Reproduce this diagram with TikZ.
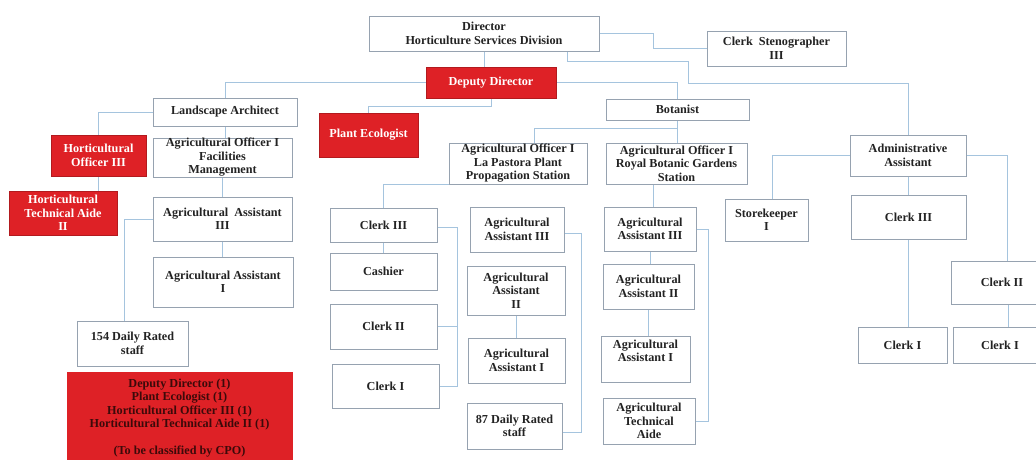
\documentclass[tikz,border=0pt]{standalone}
\usepackage{fontspec}
\setmainfont{Liberation Serif}
\usetikzlibrary{calc}
\pgfdeclarelayer{background}
\pgfsetlayers{background,main}
\definecolor{boxline}{RGB}{150,162,176}
\definecolor{conn}{RGB}{165,196,222}
\definecolor{redbox}{RGB}{222,33,38}
\definecolor{notetext}{RGB}{60,10,10}
\definecolor{txt}{RGB}{35,35,35}
\tikzset{
  box/.style={draw=boxline, line width=0.7pt, fill=white, align=center, inner sep=0pt,
    text=txt, font=\bfseries\fontsize{12.2}{13.5}\selectfont},
  redb/.style={box, fill=redbox, draw=redbox!80!black, text=white},
  notebox/.style={box, fill=redbox, draw=redbox, text=notetext},
  link/.style={draw=conn, line width=0.9pt},
}
\begin{document}
\begin{tikzpicture}[x=1pt,y=-1pt]
\useasboundingbox (0,0) rectangle (1036,460);
% top
\node[box, minimum width=230, minimum height=35] (dir) at (484,33.5) {Director\\Horticulture Services Division};
\node[box, minimum width=139, minimum height=35] (steno) at (776.5,48.5) {Clerk\ \ Stenographer\\III};
\node[redb, minimum width=130, minimum height=31] (dep) at (491,82.5) {Deputy Director};
\node[redb, minimum width=99, minimum height=44] (pe) at (368.5,135) {Plant Ecologist};
\node[box, minimum width=143, minimum height=21] (bot) at (677.5,109.5) {Botanist};
\node[box, minimum width=138, minimum height=41] (lp) at (518,163.5) {Agricultural Officer I\\La Pastora Plant\\Propagation Station};
\node[box, minimum width=141, minimum height=41] (rb) at (676.5,163.5) {Agricultural Officer I\\Royal Botanic Gardens\\Station};
% admin branch
\node[box, minimum width=116, minimum height=41] (adm) at (908,155.5) {Administrative\\Assistant};
\node[box, minimum width=83, minimum height=42] (sk) at (766.5,220) {Storekeeper\\I};
\node[box, minimum width=115, minimum height=44] (c3r) at (908.5,217) {Clerk III};
\node[box, minimum width=102, minimum height=43] (c2r) at (1002,282.5) {Clerk II};
\node[box, minimum width=89, minimum height=36] (c1a) at (902.5,345) {Clerk I};
\node[box, minimum width=94, minimum height=36] (c1b) at (1000,345) {Clerk I};
% royal branch
\node[box, minimum width=92, minimum height=44] (raa3) at (650,229) {Agricultural\\Assistant III};
\node[box, minimum width=91, minimum height=45] (raa2) at (648.5,286.5) {Agricultural\\Assistant II};
\node[box, minimum width=89, minimum height=46] (raa1) at (645.5,359) {Agricultural\\Assistant I\\[3pt]};
\node[box, minimum width=92, minimum height=46] (rta) at (649,421) {Agricultural\\Technical\\Aide};
% landscape branch
\node[box, minimum width=144, minimum height=28] (la) at (225,112) {Landscape Architect};
\node[redb, minimum width=95, minimum height=41] (ho3) at (98.5,155.5) {Horticultural\\Officer III};
\node[box, minimum width=139, minimum height=39] (fm) at (222.5,157.5) {Agricultural Officer I\\Facilities\\Management};
\node[redb, minimum width=108, minimum height=44] (hta) at (63,213) {Horticultural\\Technical Aide\\II};
\node[box, minimum width=139, minimum height=44] (aa3l) at (222.5,219) {Agricultural\ \ Assistant\\III};
\node[box, minimum width=140, minimum height=50] (aa1l) at (223,282) {Agricultural Assistant\\I};
\node[box, minimum width=111, minimum height=45] (d154) at (132.5,343.5) {154 Daily Rated\\staff};
\node[notebox, minimum width=225, minimum height=92] (note) at (179.5,418) {Deputy Director (1)\\Plant Ecologist (1)\\Horticultural Officer III (1)\\Horticultural Technical Aide II (1)\\[13pt](To be classified by CPO)};
% la pastora branch
\node[box, minimum width=107, minimum height=34] (c3) at (383.5,225) {Clerk III};
\node[box, minimum width=107, minimum height=37] (cash) at (383.5,271.5) {Cashier};
\node[box, minimum width=107, minimum height=45] (c2) at (383.5,326.5) {Clerk II};
\node[box, minimum width=107, minimum height=44] (c1) at (385.5,386) {Clerk I};
\node[box, minimum width=94, minimum height=45] (laa3) at (517,229.5) {Agricultural\\Assistant III};
\node[box, minimum width=98, minimum height=49] (laa2) at (516,290.5) {Agricultural\\Assistant\\II};
\node[box, minimum width=97, minimum height=45] (laa1) at (516.5,360.5) {Agricultural\\Assistant I};
\node[box, minimum width=95, minimum height=46] (d87) at (514.5,426) {87 Daily Rated\\staff};

\begin{pgfonlayer}{background}
% director
\draw[link] (dir.south) -- (dir.south |- dep.north);
\draw[link] (dir.east) -- ++(54,0) |- (steno.west);
\draw[link] ($(dir.south east)+(-32,0)$) -- ++(0,10) -- ++(121,0) -- ++(0,22) -| (adm.north);
% deputy
\draw[link] (dep.west) -| (la.north);
\draw[link] (dep.east) -| (bot.north);
\draw[link] (dep.south) -- ++(0,8) -| (pe.north);
% landscape
\draw[link] (la.west) -| (ho3.north);
\draw[link] (la.south) -- (la.south |- fm.north);
\draw[link] (ho3.south) -- (ho3.south |- hta.north);
\draw[link] (fm.south) -- (fm.south |- aa3l.north);
\draw[link] (aa3l.south) -- (aa3l.south |- aa1l.north);
\draw[link] (aa3l.west) -| ([xshift=-8]d154.north);
% botanist
\draw[link] (bot.south) -- ++(0,8) -| ([xshift=16]lp.north);
\draw[link] (bot.south) -- (bot.south |- rb.north);
% la pastora
\draw[link] (lp.south west) -| (c3.north);
\draw[link] (c3.south) -- (c3.south |- cash.north);
\draw[link] ([yshift=-2]c3.east) -- ++(20,0) |- (c1.east);
\draw[link] (c2.east) -- ++(20,0);
\draw[link] ([yshift=-4]laa3.east) -- ++(17,0) |- ([yshift=-6]d87.east);
\draw[link] (laa2.south) -- (laa2.south |- laa1.north);
% royal
\draw[link] ([xshift=3]raa3.north) -- ([xshift=3]raa3.north |- rb.south);
\draw[link] (raa3.south) -- (raa3.south |- raa2.north);
\draw[link] (raa2.south) -- (raa2.south |- raa1.north);
\draw[link] (raa3.east) -- ++(12,0) |- (rta.east);
% admin
\draw[link] (adm.west) -| ([xshift=6]sk.north);
\draw[link] (adm.east) -| ([xshift=5]c2r.north);
\draw[link] (adm.south) -- (adm.south |- c3r.north);
\draw[link] (c3r.south) -- (c3r.south |- c1a.north);
\draw[link] ([xshift=6]c2r.south) -- ([xshift=6]c2r.south |- c1b.north);
\end{pgfonlayer}
\end{tikzpicture}
\end{document}
